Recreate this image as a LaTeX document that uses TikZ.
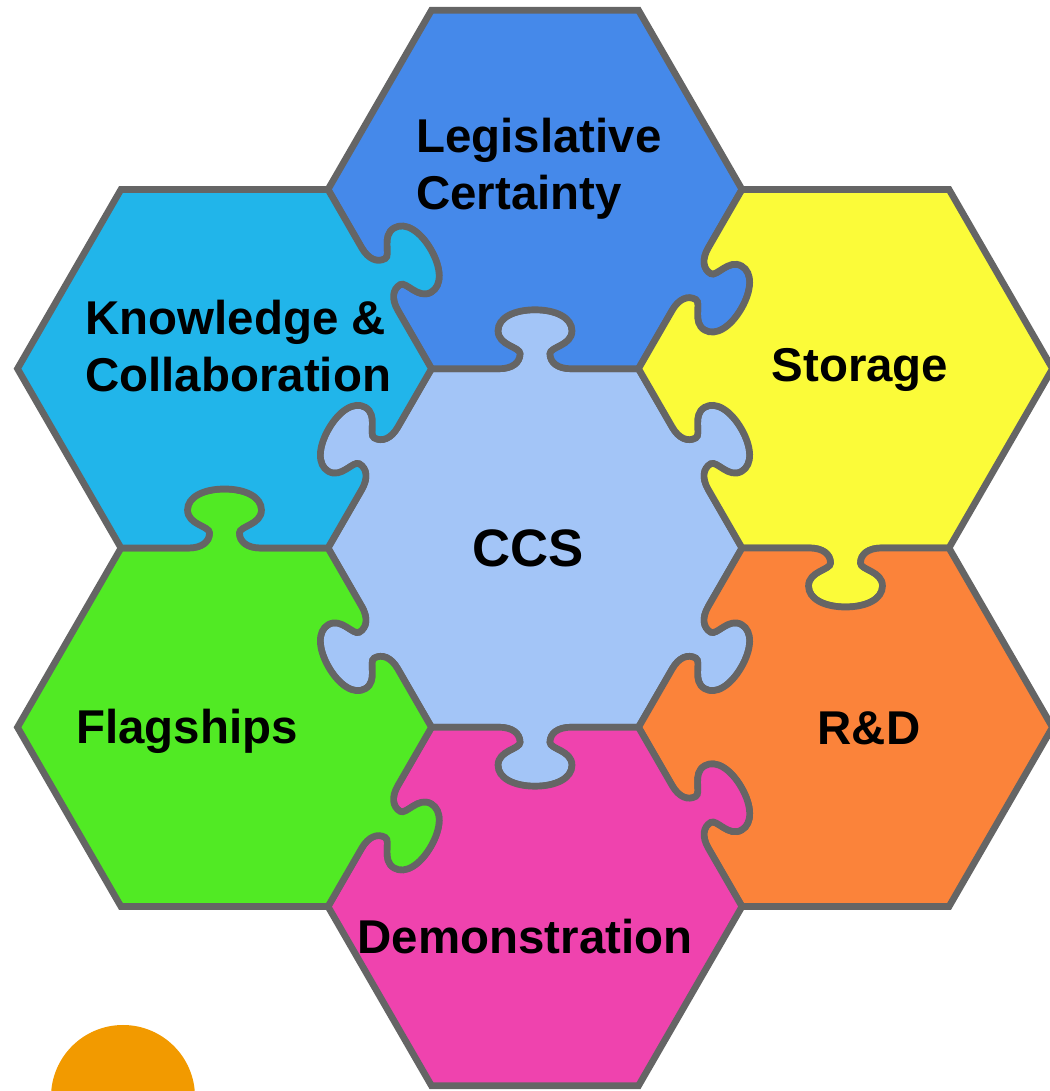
\documentclass[tikz,border=0pt]{standalone}
\usepackage{fontspec}
\setmainfont{Liberation Sans}
\usetikzlibrary{positioning}

\definecolor{rimgray}{HTML}{656565}
\definecolor{ccsblue}{HTML}{A3C5F7}
\definecolor{legblue}{HTML}{4589EA}
\definecolor{knowcyan}{HTML}{21B5EA}
\definecolor{storyellow}{HTML}{FBFB39}
\definecolor{rdorange}{HTML}{FB833A}
\definecolor{flaggreen}{HTML}{51EA24}
\definecolor{demopink}{HTML}{EF43AE}
\definecolor{dotorange}{HTML}{F29A00}

\newcommand{\hexr}{207}
\newcommand{\hexh}{179.27}

% one side of a piece, drawn as the top side and turned into place
\newcommand{\knobedge}[2]{% #1 side number, #2 knob: 1 out, -1 in, 0 none
  {[rotate=60*#1-60]
  \ifnum#2=0
    -- (-\hexr/2,\hexh)
  \else
    -- (36,\hexh)
    .. controls (23,\hexh) and (15,{\hexh+6*(#2)}) .. (15,{\hexh+15*(#2)})
    .. controls (15,{\hexh+22*(#2)}) and (37,{\hexh+23*(#2)}) .. (37,{\hexh+38*(#2)})
    .. controls (37,{\hexh+51*(#2)}) and (21,{\hexh+59*(#2)}) .. (0,{\hexh+59*(#2)})
    .. controls (-21,{\hexh+59*(#2)}) and (-37,{\hexh+51*(#2)}) .. (-37,{\hexh+38*(#2)})
    .. controls (-37,{\hexh+23*(#2)}) and (-15,{\hexh+22*(#2)}) .. (-15,{\hexh+15*(#2)})
    .. controls (-15,{\hexh+6*(#2)}) and (-23,\hexh) .. (-36,\hexh)
    -- (-\hexr/2,\hexh)
  \fi}}

\newcommand{\piece}[3]{% centre, colour, knobs of sides 0..5
  \filldraw[piece, fill=#2, shift={(#1)}] (0:\hexr)
    \foreach \knob [count=\sideno from 0] in {#3} {\knobedge{\sideno}{\knob}} -- cycle;}

\begin{document}
\begin{tikzpicture}[x=0.02cm, y=0.02cm,
  piece/.style={draw=rimgray, line width=3.8pt},
  piecetext/.style={font=\fontsize{27}{32.3}\selectfont\bfseries, inner sep=0pt}]

\useasboundingbox (0,0) rectangle (1049,1091);

\coordinate (ccs) at (535,543);
\coordinate (leg) at (535,901.5);
\coordinate (stor) at (845.5,722.3);
\coordinate (rd) at (845.5,363.7);
\coordinate (demo) at (535,184.5);
\coordinate (flag) at (224.5,363.7);
\coordinate (know) at (224.5,722.3);

\piece{ccs}{ccsblue}{1,1,1,1,1,1}
\piece{leg}{legblue}{0,0,0,-1,-1,1}
\piece{stor}{storyellow}{0,0,-1,-1,1,0}
\piece{rd}{rdorange}{0,-1,-1,-1,0,0}
\piece{demo}{demopink}{1,-1,-1,0,0,0}
\piece{flag}{flaggreen}{-1,1,0,0,0,1}
\piece{know}{knowcyan}{1,0,0,0,-1,-1}

\node[piecetext, align=left, anchor=west] (legtext) at (416,922) {Legislative\\Certainty};
\node[piecetext, align=left, anchor=west] (knowtext) at (85,745) {Knowledge \&\\Collaboration};
\node[piecetext] (stortext) at (860,721) {Storage};
\node[piecetext, font=\fontsize{30}{36}\selectfont\bfseries] (ccstext) at (528,543) {CCS};
\node[piecetext] (flagtext) at (187,360) {Flagships};
\node[piecetext] (rdtext) at (869,363) {R\&D};
\node[piecetext] (demotext) at (525,154) {Demonstration};

\fill[dotorange] (123,-6) circle (72);

\end{tikzpicture}
\end{document}
